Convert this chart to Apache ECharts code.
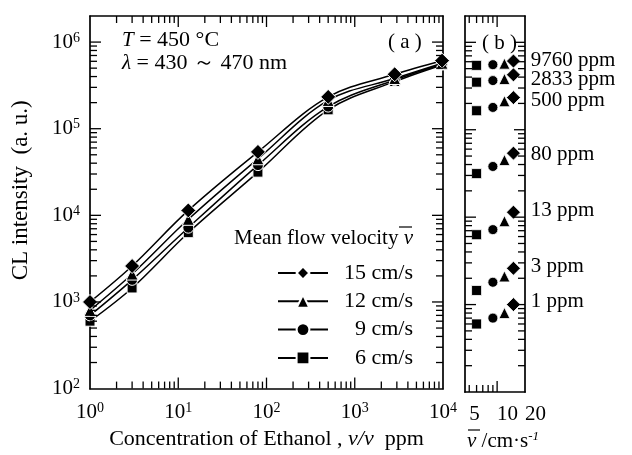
<!DOCTYPE html>
<html><head><meta charset="utf-8">
<script src="https://cdn.jsdelivr.net/npm/echarts@6/dist/echarts.min.js"></script>
<style>html,body{margin:0;padding:0;background:#fff}#c{width:632px;height:455px}</style>
</head><body><div id="c"></div>
<script>
// ---- data ----
const concentrations = [1, 3, 13, 80, 500, 2833, 9760];
const concentrationLabels = ['1 ppm', '3 ppm', '13 ppm', '80 ppm', '500 ppm', '2833 ppm', '9760 ppm'];
const velocityNames = ['15 cm/s', '12 cm/s', '9 cm/s', '6 cm/s'];
const velocities = [15, 12, 9, 6];
const cl15 = [1000, 2600, 11400, 54000, 233000, 425000, 610000];
const cl12 = [800, 2100, 9000, 45000, 212000, 380000, 570000];
const cl9 = [700, 1800, 7200, 38000, 180000, 365000, 555000];
const cl6 = [600, 1450, 6300, 31500, 165000, 350000, 545000];
const xTickLabels = [1, 10, 100, 1000, 10000];
const yTickLabels = [100, 1000, 10000, 100000, 1000000];
const vTickLabels = [5, 10, 20];
const xMajor = [10, 100, 1000];
const xMinor = [2, 3, 4, 5, 6, 7, 8, 9, 20, 30, 40, 50, 60, 70, 80, 90,
  200, 300, 400, 500, 600, 700, 800, 900, 2000, 3000, 4000, 5000, 6000, 7000, 8000, 9000];
const yMajor = [1000, 10000, 100000, 1000000];
const yMinor = [200, 300, 400, 500, 600, 700, 800, 900, 2000, 3000, 4000, 5000, 6000, 7000, 8000, 9000,
  20000, 30000, 40000, 50000, 60000, 70000, 80000, 90000, 200000, 300000, 400000, 500000, 600000, 700000, 800000, 900000];
const vMajor = [10];
const vMinor = [5, 6, 7, 8, 9];

// ---- layout / style ----
const F = "'Liberation Serif','Times New Roman',serif";
const clValues = [cl15, cl12, cl9, cl6];
const symbols = ['diamond', 'triangle', 'circle', 'rect'];
const leftSizes = [15, 12, 11, 10];
const rightSizes = [14, 11, 10, 10];
const ppmLabelNudge = [-3, -2, -2, 1, 3, 5, -1];
const X_RANGE = [1, 10000], V_RANGE = [4.5, 20], Y_RANGE = [100, 2000000];
const MAJOR_LEN = 11, MINOR_LEN = 7, TICK_W = 1.3;

const supRich = {
  b: { fontSize: 21, fontFamily: F, color: '#000', lineHeight: 22 },
  s: { fontSize: 14, fontFamily: F, color: '#000', lineHeight: 12, verticalAlign: 'top' }
};
function powLabel(v) { return '{b|10}{s|' + Math.round(Math.log10(v)) + '}'; }

const lineW = 1.7;
function ax(o) {
  return Object.assign({
    type: 'log', logBase: 10,
    splitLine: { show: false },
    axisLine: { show: true, lineStyle: { color: '#000', width: lineW } },
    axisLabel: { show: false },
    axisTick: { show: false }
  }, o);
}

const xAxes = [
  ax({ gridIndex: 0, position: 'bottom', min: X_RANGE[0], max: X_RANGE[1],
       axisLabel: { show: true, customValues: xTickLabels, margin: 13, formatter: powLabel, rich: supRich },
       name: '{a|Concentration of Ethanol , }{i|v/v}{a|  ppm}', nameLocation: 'middle', nameGap: 25,
       nameTextStyle: { rich: { a: { fontSize: 22, fontFamily: F, color: '#000' }, i: { fontSize: 22, fontFamily: F, color: '#000', fontStyle: 'italic' } } } }),
  ax({ gridIndex: 0, position: 'top', min: X_RANGE[0], max: X_RANGE[1] }),
  ax({ gridIndex: 1, position: 'bottom', min: V_RANGE[0], max: V_RANGE[1],
       axisLabel: { show: true, customValues: vTickLabels, margin: 12, align: 'left', fontSize: 21, fontFamily: F, color: '#000' } }),
  ax({ gridIndex: 1, position: 'top', min: V_RANGE[0], max: V_RANGE[1] })
];
const yAxes = [
  ax({ gridIndex: 0, position: 'left', min: Y_RANGE[0], max: Y_RANGE[1],
       axisLabel: { show: true, customValues: yTickLabels, margin: 10, formatter: powLabel, rich: supRich },
       name: 'CL intensity  (a. u.)', nameLocation: 'middle', nameGap: 58,
       nameTextStyle: { fontSize: 23, fontFamily: F, color: '#000', padding: [0, 0, 0, 24] } }),
  ax({ gridIndex: 0, position: 'right', min: Y_RANGE[0], max: Y_RANGE[1] }),
  ax({ gridIndex: 1, position: 'left', min: Y_RANGE[0], max: Y_RANGE[1] }),
  ax({ gridIndex: 1, position: 'right', min: Y_RANGE[0], max: Y_RANGE[1] })
];

// tick marks: thin rect symbols placed on the frame through the axes' scales, shifted inward
// side: 'bottom' | 'top' | 'left' | 'right'
function tickMarks(axisIdx, xr, yr, values, side, len) {
  const isX = side === 'bottom' || side === 'top';
  let pos, size, offset;
  if (side === 'bottom') { size = [TICK_W, len]; offset = [0, -len / 2]; }
  if (side === 'top') { size = [TICK_W, len]; offset = [0, len / 2]; }
  if (side === 'left') { size = [len, TICK_W]; offset = [len / 2, 0]; }
  if (side === 'right') { size = [len, TICK_W]; offset = [-len / 2, 0]; }
  return {
    name: 'tick-' + side, type: 'scatter', xAxisIndex: axisIdx, yAxisIndex: axisIdx,
    silent: true, clip: false, z: 10, symbol: 'rect', symbolSize: size, symbolOffset: offset,
    itemStyle: { color: '#000', opacity: 1 }, emphasis: { disabled: true },
    data: values.map(v => isX ? [v, side === 'bottom' ? yr[0] : yr[1]] : [side === 'left' ? xr[0] : xr[1], v])
  };
}

const series = [];
// left panel: draw slowest first so diamonds sit on top
for (let i = 3; i >= 0; i--) {
  series.push({
    name: velocityNames[i], type: 'line', xAxisIndex: 0, yAxisIndex: 0,
    smooth: 0.35, symbol: symbols[i], symbolSize: leftSizes[i],
    lineStyle: { color: '#000', width: 1.5 },
    itemStyle: { color: '#000', borderColor: '#fff', borderWidth: 1, opacity: 1 },
    z: 3 + (3 - i),
    data: concentrations.map((c, j) => [c, clValues[i][j]])
  });
}
// right panel: intensity vs mean flow velocity
for (let i = 3; i >= 0; i--) {
  series.push({
    name: 'v' + velocities[i], type: 'scatter', xAxisIndex: 2, yAxisIndex: 2,
    symbol: symbols[i], symbolSize: rightSizes[i], clip: false,
    itemStyle: { color: '#000', borderColor: '#fff', borderWidth: 0.8, opacity: 1 },
    z: 3 + (3 - i),
    data: concentrations.map((c, j) => {
      const d = { value: [velocities[i], clValues[i][j]] };
      if (i === 0) d.label = { show: true, position: 'right', distance: 10, formatter: concentrationLabels[j],
        offset: [0, ppmLabelNudge[j]], fontSize: 21, fontFamily: F, color: '#000', opacity: 1 };
      return d;
    })
  });
}
['bottom', 'top'].forEach(s => {
  series.push(tickMarks(0, X_RANGE, Y_RANGE, xMajor, s, MAJOR_LEN));
  series.push(tickMarks(0, X_RANGE, Y_RANGE, xMinor, s, MINOR_LEN));
  series.push(tickMarks(2, V_RANGE, Y_RANGE, vMajor, s, MAJOR_LEN));
  series.push(tickMarks(2, V_RANGE, Y_RANGE, vMinor, s, MINOR_LEN));
});
['left', 'right'].forEach(s => {
  series.push(tickMarks(0, X_RANGE, Y_RANGE, yMajor, s, MAJOR_LEN));
  series.push(tickMarks(0, X_RANGE, Y_RANGE, yMinor, s, MINOR_LEN));
  series.push(tickMarks(2, V_RANGE, Y_RANGE, yMajor, s, MAJOR_LEN));
  series.push(tickMarks(2, V_RANGE, Y_RANGE, yMinor, s, MINOR_LEN));
});

const txt = (x, y, text, rich, extra) => ({
  type: 'text', x: x, y: y,
  style: Object.assign({ text: text, fontSize: 21, fontFamily: F, fill: '#000', verticalAlign: 'middle', rich: rich || {} }, extra || {})
});
const italicRich = { i: { fontStyle: 'italic', fontSize: 21, fontFamily: F, fill: '#000' } };

const chart = echarts.init(document.getElementById('c'), null, { renderer: 'canvas' });
chart.setOption({
  animation: false,
  backgroundColor: '#fff',
  grid: [
    { left: 90, top: 16, width: 353, height: 376 },
    { left: 465, top: 16, width: 60, height: 376 }
  ],
  xAxis: xAxes,
  yAxis: yAxes,
  legend: {
    data: velocityNames, orient: 'vertical', left: 277, top: 262, padding: 0,
    itemWidth: 50, itemHeight: 16, itemGap: 6.3, selectedMode: false,
    formatter: n => '{t|' + n + '}',
    textStyle: { fontSize: 22, fontFamily: F, color: '#000', lineHeight: 20,
      rich: { t: { width: 80, align: 'right', fontSize: 22, fontFamily: F, color: '#000', lineHeight: 20 } } }
  },
  graphic: [
    txt(122, 40, '{i|T} = 450 °C', italicRich, { fontSize: 22 }),
    txt(122, 63, '{i|λ} = 430 ～ 470 nm', italicRich, { fontSize: 22 }),
    txt(388, 42, '( a )', null),
    txt(482, 43, '( b )', null),
    txt(413, 238, 'Mean flow velocity {i|v}', italicRich, { align: 'right' }),
    { type: 'line', shape: { x1: 399, y1: 227, x2: 412, y2: 227 }, style: { stroke: '#000', lineWidth: 1.2 } },
    txt(467, 441, '{i|v} /cm·s{s|-1}', { i: { fontStyle: 'italic', fontSize: 21, fontFamily: F, fill: '#000' },
        s: { fontStyle: 'italic', fontSize: 13, fontFamily: F, fill: '#000', verticalAlign: 'top', lineHeight: 12 } }),
    { type: 'line', shape: { x1: 468, y1: 430, x2: 480, y2: 430 }, style: { stroke: '#000', lineWidth: 1.2 } }
  ],
  series: series
});
</script>
</body></html>
